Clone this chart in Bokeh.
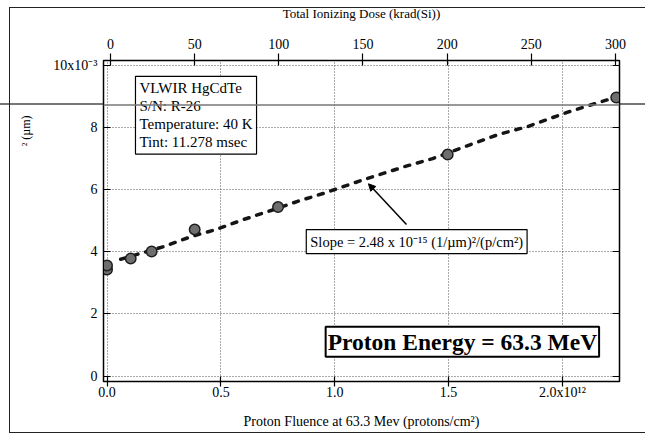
from bokeh.embed import file_html
from bokeh.models import (Arrow, FixedTicker, Label, LinearAxis, NormalHead,
                          Range1d, Span, Title)
from bokeh.plotting import figure
from bokeh.resources import INLINE

# Proton fluence (x 1e12 p/cm^2) and measured value (x 1e-3 (1/um)^2)
fluence = [0.0, 0.0, 0.104, 0.196, 0.385, 0.751, 1.496, 2.236]
signal = [3.43, 3.56, 3.78, 4.01, 4.72, 5.44, 7.13, 8.97]

# Trend curve through the measurements
fit_fluence = [0.06, 0.25, 0.37, 0.48, 0.60, 0.72, 0.84, 0.95, 1.13, 1.31,
               1.43, 1.55, 1.72, 1.85, 2.02, 2.20, 2.23]
fit_signal = [3.76, 4.17, 4.49, 4.72, 5.04, 5.33, 5.63, 5.88, 6.33, 6.75,
              7.00, 7.33, 7.78, 8.04, 8.49, 8.90, 8.95]

fluence_ticks = [0.0, 0.5, 1.0, 1.5, 2.0]
fluence_labels = ["0.0", "0.5", "1.0", "1.5", "2.0x10¹²"]
signal_ticks = [0, 2, 4, 6, 8, 10]
signal_labels = ["0", "2", "4", "6", "8", "10x10⁻³"]
dose_ticks = [0, 50, 100, 150, 200, 250, 300]

info_lines = ["VLWIR HgCdTe", "S/N: R-26", "Temperature: 40 K", "Tint: 11.278 msec"]
slope_text = "Slope = 2.48 x 10⁻¹⁵ (1/µm)²/(p/cm²)"
energy_text = "Proton Energy = 63.3 MeV"
y_title = "² (µm)"

SERIF = "Liberation Serif"
INK = "black"

p = figure(width=645, height=439, output_backend="svg", toolbar_location=None,
           x_range=Range1d(-0.0154, 2.2503), y_range=Range1d(-0.177, 10.16),
           min_border_left=103, min_border_right=26,
           min_border_top=60, min_border_bottom=58,
           background_fill_color="white", border_fill_alpha=0)
p.outline_line_color = INK
p.outline_line_width = 1.5

# page frame drawn behind the transparent canvas border
p.styles = {
    "background-color": "white",
    "background-image": ", ".join(["linear-gradient(#222, #222)"] * 3
                                  + ["linear-gradient(#777, #777)"]),
    "background-size": "1px 426px, 640px 1px, 640px 1px, 645px 2px",
    "background-position": "9px 7px, 9px 7px, 9px 432px, 0px 103px",
    "background-repeat": "no-repeat",
}

# bottom axis: fluence
xa = p.xaxis[0]
xa.ticker = FixedTicker(ticks=fluence_ticks)
xa.major_label_overrides = {t: s for t, s in zip(fluence_ticks, fluence_labels)}
xa.axis_label = "Proton Fluence at 63.3 Mev (protons/cm²)"

# left axis
ya = p.yaxis[0]
ya.ticker = FixedTicker(ticks=signal_ticks)
ya.major_label_overrides = {t: s for t, s in zip(signal_ticks, signal_labels)}

for ax in (xa, ya):
    ax.minor_tick_line_color = None
    ax.axis_line_color = INK
    ax.major_tick_line_color = INK
    ax.major_tick_line_width = 1.2
    ax.major_label_text_font = SERIF
    ax.major_label_text_font_size = "14px"
    ax.major_label_text_color = INK
    ax.axis_label_text_font = SERIF
    ax.axis_label_text_font_size = "14px"
    ax.axis_label_text_font_style = "normal"
    ax.axis_label_text_color = INK

xa.major_tick_in = 5
xa.major_tick_out = 5
xa.major_label_standoff = -2
xa.axis_label_standoff = 11
ya.major_tick_in = 7
ya.major_tick_out = 0
ya.major_label_standoff = 6

# top axis: total ionizing dose
p.extra_x_ranges = {"dose": Range1d(-4.16, 302.4)}
top = LinearAxis(x_range_name="dose", ticker=FixedTicker(ticks=dose_ticks),
                 axis_label="Total Ionizing Dose (krad(Si))",
                 axis_label_text_font=SERIF, axis_label_text_font_size="13px",
                 axis_label_text_font_style="normal", axis_label_text_color=INK,
                 axis_label_standoff=15,
                 major_label_text_font=SERIF, major_label_text_font_size="14px",
                 major_label_text_color=INK, major_label_standoff=5,
                 major_tick_in=5, major_tick_out=7, major_tick_line_width=1.2,
                 axis_line_color=INK, major_tick_line_color=INK,
                 minor_tick_line_color=None)
p.add_layout(top, "above")

# right axis: ticks only
right = LinearAxis(ticker=FixedTicker(ticks=signal_ticks),
                   major_label_overrides={t: "" for t in signal_ticks},
                   major_tick_in=7, major_tick_out=0, major_tick_line_width=1.2,
                   axis_line_color=INK, major_tick_line_color=INK,
                   minor_tick_line_color=None)
p.add_layout(right, "right")

# vertical axis title, placed near the top of the left side
p.add_layout(Title(text=y_title, align="right", offset=55, standoff=32,
                   vertical_align="top",
                   text_font=SERIF, text_font_size="12px",
                   text_font_style="normal", text_color=INK), "left")

# dotted grid
for g, ticks in ((p.xgrid[0], fluence_ticks), (p.ygrid[0], signal_ticks)):
    g.ticker = FixedTicker(ticks=ticks)
    g.grid_line_color = "#555555"
    g.grid_line_dash = "1 2"
    g.grid_line_width = 1

# trend curve and measurements
p.line(fit_fluence, fit_signal, line_color="#151515", line_width=3.5,
       line_dash="5 8", line_cap="round")
p.scatter(fluence, signal, size=10.5, fill_color="#6e6e6e",
          line_color="#1e1e1e", line_width=1.5)

# annotation boxes
p.add_layout(Label(x=0.125, y=9.65, text="\n".join(info_lines),
                   text_align="left", text_baseline="top", text_color=INK,
                   text_font=SERIF, text_font_size="15px", text_line_height=1.12,
                   padding=4, border_line_color=INK, border_line_width=1.2,
                   background_fill_color="white"))

p.add_layout(Arrow(x_start=1.315, y_start=4.88, x_end=1.148, y_end=6.19,
                   line_width=1.5, line_color=INK,
                   end=NormalHead(size=7, fill_color=INK, line_color=INK)))

p.add_layout(Label(x=0.875, y=4.33, text=slope_text,
                   text_align="left", text_baseline="middle", text_color=INK,
                   text_font=SERIF, text_font_size="14.5px",
                   padding=4, border_line_color=INK, border_line_width=1.2,
                   background_fill_color="white"))

p.add_layout(Label(x=0.96, y=1.1, text=energy_text,
                   text_align="left", text_baseline="middle", text_color=INK,
                   text_font=SERIF, text_font_size="23.5px", text_font_style="bold",
                   padding=2, border_line_color=INK, border_line_width=2,
                   background_fill_color="white"))

# scanner streak across the sheet
p.add_layout(Span(location=8.73, dimension="width", line_color="#777777",
                  line_width=1.5, level="overlay"))

open("out.html", "w").write(file_html(p, INLINE))
